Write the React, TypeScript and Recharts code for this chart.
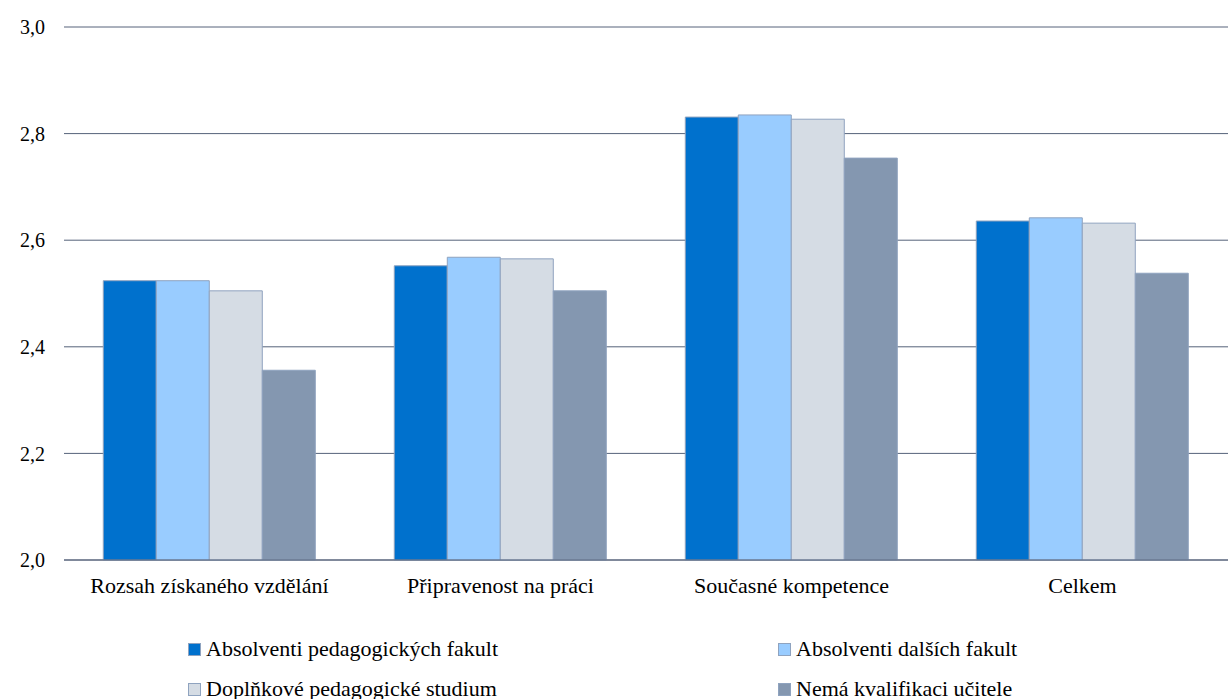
import { BarChart, Bar, XAxis, YAxis, CartesianGrid } from 'recharts'

const categories = [
  'Rozsah získaného vzdělání',
  'Připravenost na práci',
  'Současné kompetence',
  'Celkem',
]

const absPedFak = [2.524, 2.552, 2.831, 2.636]
const absDalsiFak = [2.524, 2.568, 2.835, 2.642]
const doplnkove = [2.505, 2.565, 2.827, 2.632]
const nemaKval = [2.356, 2.505, 2.754, 2.538]

const yTicks = [2.0, 2.2, 2.4, 2.6, 2.8, 3.0]

const series = [
  { key: 'a', name: 'Absolventi pedagogických fakult', color: '#0071CD', values: absPedFak },
  { key: 'b', name: 'Absolventi dalších fakult', color: '#99CCFF', values: absDalsiFak },
  { key: 'c', name: 'Doplňkové pedagogické studium', color: '#D5DCE4', values: doplnkove },
  { key: 'd', name: 'Nemá kvalifikaci učitele', color: '#8497B0', values: nemaKval },
]

const data = categories.map((c, i) => {
  const row: Record<string, string | number> = { kategorie: c }
  series.forEach((s) => {
    row[s.key] = s.values[i]
  })
  return row
})

const FONT = '"Liberation Serif", Tinos, "Times New Roman", "DejaVu Serif", serif'
const GRID = '#56637A'

// pozice legendy (dva sloupce)
const legendPos = [
  { left: 188, top: 649 },
  { left: 778, top: 649 },
  { left: 188, top: 689 },
  { left: 778, top: 689 },
]

export default function App() {
  return (
    <div style={{ position: 'absolute', left: 0, top: 0, width: 1228, height: 699, background: '#fff', fontFamily: FONT }}>
      <BarChart
        width={1228}
        height={699}
        data={data}
        margin={{ top: 27, right: 0, left: 0, bottom: 99 }}
        barCategoryGap="13.5%"
        barGap={0}
        style={{ fontFamily: FONT }}
      >
        <CartesianGrid vertical={false} stroke={GRID} strokeWidth={1} />
        <XAxis
          dataKey="kategorie"
          axisLine={{ stroke: GRID }}
          tickLine={false}
          tickMargin={11}
          tick={{ fontSize: 22, fill: '#000', fontFamily: FONT }}
          height={40}
        />
        <YAxis
          domain={[2, 3]}
          ticks={yTicks}
          interval={0}
          width={64}
          axisLine={false}
          tickLine={false}
          tickMargin={13}
          tickFormatter={(v: number) => v.toFixed(1).replace('.', ',')}
          tick={{ fontSize: 20, fill: '#000', fontFamily: FONT }}
        />
        {series.map((s) => (
          <Bar
            key={s.key}
            dataKey={s.key}
            name={s.name}
            fill={s.color}
            stroke="#8FA3BF"
            strokeWidth={1}
            isAnimationActive={false}
          />
        ))}
      </BarChart>
      {series.map((s, i) => (
        <div
          key={s.key}
          style={{
            position: 'absolute',
            left: legendPos[i].left,
            top: legendPos[i].top - 13,
            display: 'flex',
            alignItems: 'center',
            fontSize: 22,
            fontFamily: FONT,
            color: '#000',
            whiteSpace: 'nowrap',
            lineHeight: '26px',
          }}
        >
          <span
            style={{
              display: 'inline-block',
              width: 11,
              height: 11,
              background: s.color,
              border: '1px solid #8FA3BF',
              marginRight: 5,
            }}
          />
          {s.name}
        </div>
      ))}
    </div>
  )
}
